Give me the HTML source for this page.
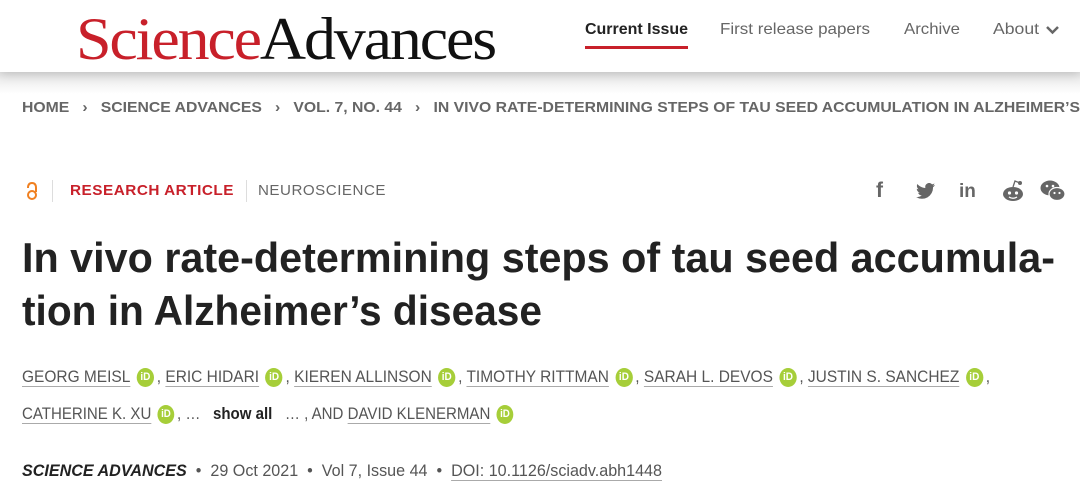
<!DOCTYPE html>
<html><head><meta charset="utf-8">
<style>
html,body{margin:0;padding:0;width:1080px;height:487px;overflow:hidden;background:#fff;font-family:"Liberation Sans",sans-serif}
.a{position:absolute;white-space:nowrap;transform-origin:0 50%;line-height:1}
.header{position:absolute;left:0;top:0;width:1080px;height:72px;background:#fff;box-shadow:0 2px 10px rgba(0,0,0,0.18);z-index:2}
.shade{position:absolute;left:0;top:72px;width:1080px;height:22px;background:linear-gradient(#e6e6e6,#fff)}
.orc{display:inline-block;width:19px;height:19px;border-radius:50%;background:#a6ce39;color:#fff;font-size:11px;line-height:19px;text-align:center;vertical-align:middle;margin:0 3px 0 7px;font-weight:bold}
.au{color:#555;text-decoration:underline;text-decoration-color:#aaa;text-underline-offset:4px}
.bc{color:#666;font-weight:bold;font-size:15px}
</style></head><body>
<div class="shade"></div>
<div class="header">
  <div class="a fit" data-w="419" style="left:76px;top:9px;font-family:'Liberation Serif',serif;font-size:60px;letter-spacing:-2px"><span style="color:#c8202a">Science</span><span style="color:#111">Advances</span></div>
  <div class="a fit" data-w="103" style="left:585px;top:22px;font-size:16px;font-weight:bold;color:#222">Current Issue</div>
  <div style="position:absolute;left:585px;top:46px;width:103px;height:3px;background:#c8202a"></div>
  <div class="a fit" data-w="150" style="left:720px;top:22px;font-size:16px;color:#666">First release papers</div>
  <div class="a fit" data-w="56" style="left:904px;top:22px;font-size:16px;color:#666">Archive</div>
  <div class="a fit" data-w="46" style="left:993px;top:22px;font-size:16px;color:#666">About</div>
  <svg style="position:absolute;left:1045px;top:25px" width="15" height="10"><path d="M2 2 L7.5 7.5 L13 2" stroke="#666" stroke-width="2.5" fill="none"/></svg>
</div>
<div class="a fit bc" data-w="1058" style="left:22px;top:100px">HOME&nbsp;&nbsp;&nbsp;›&nbsp;&nbsp;&nbsp;SCIENCE ADVANCES&nbsp;&nbsp;&nbsp;›&nbsp;&nbsp;&nbsp;VOL. 7, NO. 44&nbsp;&nbsp;&nbsp;›&nbsp;&nbsp;&nbsp;IN VIVO RATE-DETERMINING STEPS OF TAU SEED ACCUMULATION IN ALZHEIMER’S</div>
<svg style="position:absolute;left:25px;top:181px" width="14" height="20"><path d="M3 7 Q3 2 7 2 Q11 2 11 7 L11 11" stroke="#f08020" stroke-width="2" fill="none"/><circle cx="7" cy="14" r="4" stroke="#f08020" stroke-width="2" fill="none"/></svg>
<div style="position:absolute;left:52px;top:180px;width:1px;height:22px;background:#ddd"></div>
<div class="a fit" data-w="164" style="left:70px;top:183px;font-size:15px;font-weight:bold;color:#c8202a;letter-spacing:0.5px">RESEARCH ARTICLE</div>
<div style="position:absolute;left:246px;top:180px;width:1px;height:22px;background:#ddd"></div>
<div class="a fit" data-w="128" style="left:258px;top:183px;font-size:15px;color:#666;letter-spacing:0.5px">NEUROSCIENCE</div>
<div class="a" style="left:876px;top:180px;font-size:21px;font-weight:bold;color:#666">f</div>
<svg style="position:absolute;left:916px;top:183px" width="20" height="17"><path d="M19 2c-.7.3-1.4.5-2.2.6.8-.5 1.4-1.2 1.7-2.1-.8.4-1.600.8-2.4.9A3.9 3.9 0 0 0 9.4 5C6.2 4.8 3.3 3.3 1.4 1c-1 1.8-.5 4 1.2 5.2-.6 0-1.2-.2-1.8-.5 0 1.9 1.4 3.5 3.1 3.9-.6.2-1.2.2-1.8.1.5 1.6 2 2.7 3.7 2.7A7.9 7.9 0 0 1 0 14a11 11 0 0 0 17-9.8c.8-.6 1.5-1.3 2-2.2z" fill="#666"/></svg>
<div class="a" style="left:959px;top:182px;font-size:19px;font-weight:bold;color:#666">in</div>
<svg style="position:absolute;left:1002px;top:180px" width="24" height="22"><ellipse cx="11" cy="14" rx="10" ry="7" fill="#666"/><circle cx="18" cy="3" r="2" fill="#666"/><path d="M11 7 L13 1 L18 3" stroke="#666" fill="none" stroke-width="1.3"/><circle cx="7.5" cy="13" r="1.6" fill="#fff"/><circle cx="14.5" cy="13" r="1.6" fill="#fff"/><path d="M7 17q4 2.5 8 0" stroke="#fff" fill="none" stroke-width="1.3"/></svg>
<svg style="position:absolute;left:1040px;top:180px" width="26" height="22"><ellipse cx="10" cy="8" rx="9.5" ry="7.5" fill="#666"/><ellipse cx="17" cy="14" rx="8" ry="6.5" fill="#666" stroke="#fff" stroke-width="1.2"/><circle cx="7" cy="6" r="1.3" fill="#fff"/><circle cx="13" cy="6" r="1.3" fill="#fff"/><circle cx="14.5" cy="13" r="1.1" fill="#fff"/><circle cx="19.5" cy="13" r="1.1" fill="#fff"/></svg>
<div class="a fit" data-w="1033" style="left:22px;top:237px;font-size:42px;font-weight:bold;color:#222">In vivo rate-determining steps of tau seed accumula-</div>
<div class="a fit" data-w="520" style="left:22px;top:290px;font-size:42px;font-weight:bold;color:#222">tion in Alzheimer’s disease</div>
<div class="a fit" data-w="968" style="left:22px;top:368px;font-size:17px;color:#555"><span class="au">GEORG MEISL</span><span class="orc">iD</span>, <span class="au">ERIC HIDARI</span><span class="orc">iD</span>, <span class="au">KIEREN ALLINSON</span><span class="orc">iD</span>, <span class="au">TIMOTHY RITTMAN</span><span class="orc">iD</span>, <span class="au">SARAH L. DEVOS</span><span class="orc">iD</span>, <span class="au">JUSTIN S. SANCHEZ</span><span class="orc">iD</span>,</div>
<div class="a fit" data-w="494" style="left:22px;top:405px;font-size:17px;color:#555"><span class="au">CATHERINE K. XU</span><span class="orc">iD</span>, …&nbsp;&nbsp; <b style="color:#222">show all</b>&nbsp;&nbsp; … , AND <span class="au">DAVID KLENERMAN</span><span class="orc">iD</span></div>
<div class="a fit" data-w="640" style="left:22px;top:462px;font-size:17px;color:#555"><b><i style="color:#222">SCIENCE ADVANCES</i></b>&nbsp; •&nbsp; 29 Oct 2021&nbsp; •&nbsp; Vol 7, Issue 44&nbsp; •&nbsp; <span class="au">DOI: 10.1126/sciadv.abh1448</span></div>
<script>
document.querySelectorAll('.fit').forEach(function(el){
  var w=el.getBoundingClientRect().width, t=+el.getAttribute('data-w');
  if(w>0) el.style.transform='scaleX('+(t/w)+')';
});
</script>
</body></html>
